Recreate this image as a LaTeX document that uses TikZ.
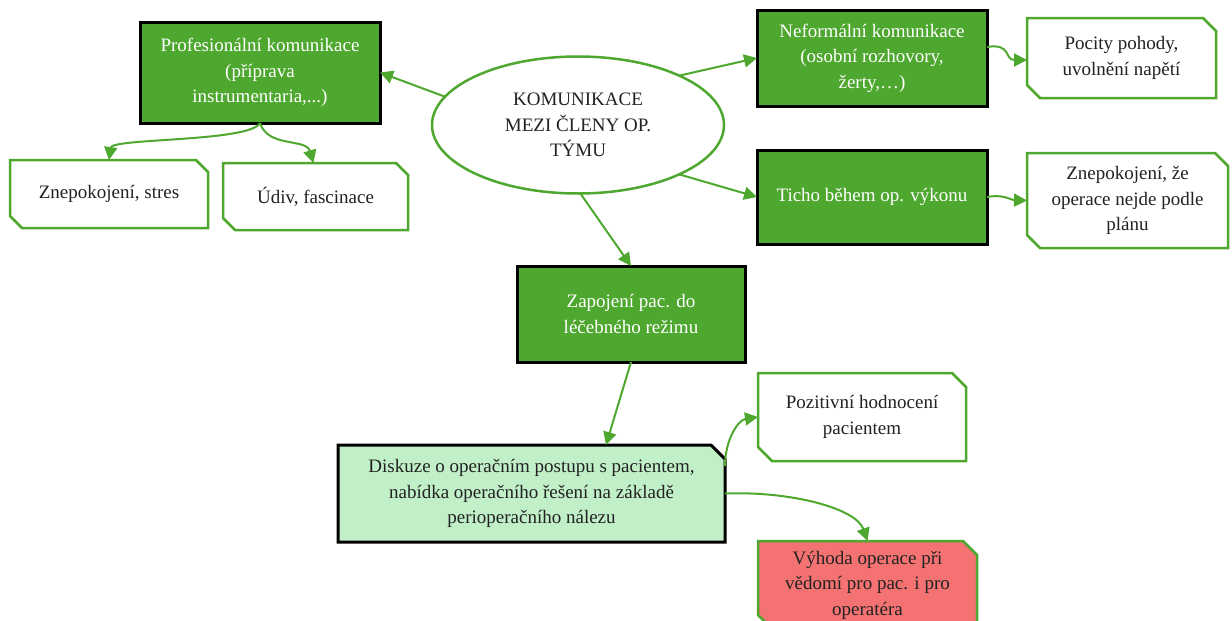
\documentclass[tikz,border=0pt]{standalone}
\usepackage{fontspec}
\setmainfont{Liberation Serif}
\usetikzlibrary{arrows.meta,shapes.geometric}
\definecolor{dkgreen}{HTML}{4EA72E}
\definecolor{ltgreen}{HTML}{C1F0C8}
\definecolor{salmon}{HTML}{F47272}
\definecolor{txtgray}{HTML}{222222}
\pgfdeclarelayer{bg}
\pgfsetlayers{bg,main}
\tikzset{
  txt/.style={font=\fontsize{19}{25.5}\selectfont, align=center, inner sep=0pt, outer sep=0pt, text=txtgray},
  darkbox/.style={txt, draw=black, line width=3pt, fill=dkgreen, text=white},
  ghost/.style={txt, draw=none},
  whiteout/.style={draw=dkgreen, line width=2.5pt, fill=white, line join=miter},
  redout/.style={draw=dkgreen, line width=2.5pt, fill=salmon, line join=miter},
  lightout/.style={draw=black, line width=3pt, fill=ltgreen, line join=miter},
  conn/.style={draw=dkgreen, line width=2pt, -{Triangle[length=13pt,width=13pt]}},
}
\newcommand\snipTwo[3]{%
  \begin{pgfonlayer}{bg}
  \path[#3] (#1.north west) -- ([xshift=-#2]#1.north east) -- ([yshift=-#2]#1.north east)
    -- (#1.south east) -- ([xshift=#2]#1.south west) -- ([yshift=#2]#1.south west) -- cycle;
  \end{pgfonlayer}}
\newcommand\snipOne[3]{%
  \begin{pgfonlayer}{bg}
  \path[#3] (#1.north west) -- ([xshift=-#2]#1.north east) -- ([yshift=-#2]#1.north east)
    -- (#1.south east) -- (#1.south west) -- cycle;
  \end{pgfonlayer}}
\begin{document}
\begin{tikzpicture}[x=1pt,y=-1pt]
\clip (0,0) rectangle (1232,621);
% main ellipse
\node[txt, ellipse, draw=dkgreen, line width=2.5pt, fill=white, minimum width=292pt, minimum height=137pt] (ell) at (578,125) {KOMUNIKACE\\MEZI ČLENY OP.\\TÝMU};
% dark green boxes
\node[darkbox, minimum width=240pt, minimum height=101pt] (prof) at (260,72.5) {Profesionální komunikace\\(příprava\\instrumentaria,...)};
\node[darkbox, minimum width=230pt, minimum height=96pt] (nef) at (872,58) {Neformální komunikace\\(osobní rozhovory,\\žerty,\dots)};
\node[darkbox, minimum width=230pt, minimum height=94pt] (ticho) at (872,197) {Ticho během op. výkonu};
\node[darkbox, minimum width=228pt, minimum height=96pt] (zap) at (631,314) {Zapojení pac. do\\léčebného režimu};
% white snipped boxes
\node[ghost, minimum width=189pt, minimum height=80pt] (poc) at (1121.5,58) {Pocity pohody,\\uvolnění napětí};
\snipTwo{poc}{13pt}{whiteout}
\node[ghost, minimum width=201pt, minimum height=95pt] (zze) at (1127.5,200.5) {Znepokojení, že\\operace nejde podle\\plánu};
\snipTwo{zze}{13pt}{whiteout}
\node[ghost, minimum width=198pt, minimum height=68pt] (stres) at (109,194) {Znepokojení, stres};
\snipTwo{stres}{12pt}{whiteout}
\node[ghost, minimum width=185pt, minimum height=67pt] (udiv) at (315.5,196.5) {Údiv, fascinace};
\snipTwo{udiv}{12pt}{whiteout}
\node[ghost, minimum width=208pt, minimum height=88pt] (poz) at (862,417) {Pozitivní hodnocení\\pacientem};
\snipTwo{poz}{14pt}{whiteout}
\node[ghost, minimum width=219pt, minimum height=88pt] (vyh) at (867.5,585) {Výhoda operace při\\vědomí pro pac. i pro\\operatéra};
\snipTwo{vyh}{14pt}{redout}
\node[ghost, minimum width=387pt, minimum height=97pt] (disk) at (531.5,493.5) {Diskuze o operačním postupu s pacientem,\\nabídka operačního řešení na základě\\perioperačního nálezu};
\snipOne{disk}{14pt}{lightout}
% connectors
\draw[conn] (ell.168) -- (prof.east);
\draw[conn] (ell.26) -- (nef.west);
\draw[conn] (ell.-26) -- (ticho.west);
\draw[conn] (ell.-88) -- (zap.north);
\draw[conn] (prof.south) .. controls (250,142) and (112,138) .. (stres.north);
\draw[conn] (prof.south) .. controls (268,148) and (306,138) .. ([xshift=-2pt]udiv.north);
\draw[conn] ([yshift=11pt]nef.east) .. controls (1012,43) and (1004,60) .. ([yshift=-2pt]poc.west);
\draw[conn] (ticho.east) .. controls (1005,194) and (1010,200) .. (zze.west);
\draw[conn] (zap.south) -- ([xshift=74.5pt]disk.north);
\draw[conn] ([yshift=27.5pt]disk.east) .. controls (725,440) and (738,420) .. (poz.west);
\draw[conn] (disk.east) .. controls (790,491) and (856,508) .. (vyh.north);
\end{tikzpicture}
\end{document}
